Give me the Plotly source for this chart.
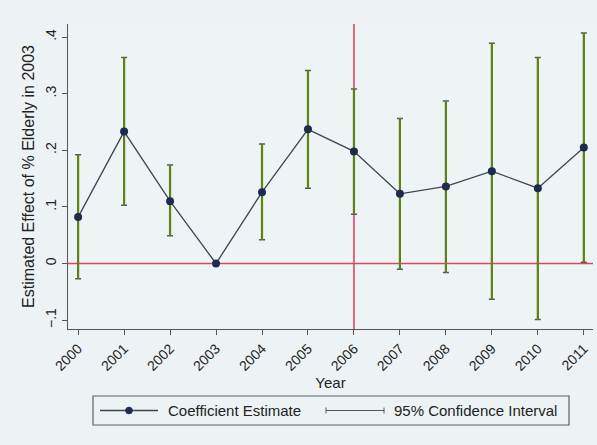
import plotly.graph_objects as go

years = [2000, 2001, 2002, 2003, 2004, 2005, 2006, 2007, 2008, 2009, 2010, 2011]
estimate = [0.082, 0.233, 0.110, 0.0, 0.126, 0.237, 0.198, 0.123, 0.136, 0.163, 0.133, 0.205]
ci_upper = [0.192, 0.364, 0.174, 0.0, 0.211, 0.341, 0.308, 0.256, 0.287, 0.389, 0.364, 0.407]
ci_lower = [-0.027, 0.103, 0.049, 0.0, 0.042, 0.133, 0.087, -0.010, -0.016, -0.063, -0.099, 0.002]
ytick_vals = [-0.1, 0, 0.1, 0.2, 0.3, 0.4]
ytick_text = ["\u2212.1", "0", ".1", ".2", ".3", ".4"]

W, H = 597, 445
L, R, T, B = 68, 4, 24, 116
PW, PH = W - L - R, H - T - B

def px(x):
    return (x - L) / PW

def py(y):
    return (H - B - y) / PH

green = "#5f8214"
capc = "#555a58"
red = "#d9485f"
navy = "#1d2c4e"
linec = "#3e4652"
font = "Liberation Sans, Arial, sans-serif"

fig = go.Figure()

# caps (error bars) drawn in gray
fig.add_trace(go.Scatter(
    x=years, y=estimate, mode="none",
    error_y=dict(type="data", symmetric=False,
                 array=[u - e for u, e in zip(ci_upper, estimate)],
                 arrayminus=[e - l for e, l in zip(estimate, ci_lower)],
                 color=capc, thickness=1.5, width=3),
    showlegend=False, hoverinfo="skip"))

# green vertical CI spans
cx, cy = [], []
for yr, lo, hi in zip(years, ci_lower, ci_upper):
    cx += [yr, yr, None]
    cy += [lo, hi, None]
fig.add_trace(go.Scatter(x=cx, y=cy, mode="lines",
                         line=dict(color=green, width=2.2),
                         showlegend=False, hoverinfo="skip"))

# estimate line
fig.add_trace(go.Scatter(x=years, y=estimate, mode="lines+markers",
                         line=dict(color=linec, width=1.3),
                         marker=dict(color=navy, size=8),
                         showlegend=False))

ly = 410.5
shapes = [
    dict(type="line", xref="paper", yref="y", x0=0, x1=1, y0=0, y1=0,
         line=dict(color=red, width=1.6), layer="below"),
    dict(type="line", xref="x", yref="paper", x0=2006, x1=2006, y0=0, y1=1,
         line=dict(color=red, width=1.6), layer="below"),
    # legend box
    dict(type="rect", xref="paper", yref="paper", x0=px(93), x1=px(569),
         y0=py(425), y1=py(396), line=dict(color="#5a5f60", width=1.2),
         fillcolor="rgba(0,0,0,0)"),
    # legend line for estimate
    dict(type="line", xref="paper", yref="paper", x0=px(100), x1=px(158),
         y0=py(ly), y1=py(ly), line=dict(color=linec, width=1.3)),
    dict(type="circle", xref="paper", yref="paper", x0=px(125.5), x1=px(132.5),
         y0=py(ly + 3.5), y1=py(ly - 3.5), fillcolor=navy,
         line=dict(color=navy, width=0.5)),
    # legend CI symbol
    dict(type="line", xref="paper", yref="paper", x0=px(326), x1=px(384),
         y0=py(ly), y1=py(ly), line=dict(color=capc, width=1)),
    dict(type="line", xref="paper", yref="paper", x0=px(326), x1=px(326),
         y0=py(ly - 3), y1=py(ly + 3), line=dict(color=capc, width=1)),
    dict(type="line", xref="paper", yref="paper", x0=px(384), x1=px(384),
         y0=py(ly - 3), y1=py(ly + 3), line=dict(color=capc, width=1)),
]

annotations = [
    dict(xref="paper", yref="paper", x=px(166), y=py(ly), xanchor="left",
         yanchor="middle", text="Coefficient Estimate", showarrow=False,
         font=dict(family=font, size=15, color="#222")),
    dict(xref="paper", yref="paper", x=px(392), y=py(ly), xanchor="left",
         yanchor="middle", text="95% Confidence Interval", showarrow=False,
         font=dict(family=font, size=15, color="#222")),
]

fig.update_layout(
    width=W, height=H,
    margin=dict(l=L, r=R, t=T, b=B),
    paper_bgcolor="#edf3f4",
    plot_bgcolor="#eef3f5",
    font=dict(family=font, size=14, color="#222"),
    shapes=shapes,
    annotations=annotations,
    xaxis=dict(range=[1999.78, 2011.2], tickmode="array", tickvals=years,
               ticktext=[str(y) for y in years], tickangle=-45,
               tickfont=dict(size=14),
               showgrid=False, zeroline=False, showline=True,
               linecolor="#555", linewidth=1.2, ticks="outside", ticklen=5,
               tickcolor="#555",
               title=dict(text="Year", standoff=2, font=dict(size=15))),
    yaxis=dict(range=[-0.1157, 0.423], tickmode="array", tickvals=ytick_vals,
               ticktext=ytick_text, tickangle=-90,
               tickfont=dict(size=14),
               showgrid=False, zeroline=False, showline=True,
               linecolor="#555", linewidth=1.2, ticks="outside", ticklen=5,
               tickcolor="#555",
               title=dict(text="Estimated Effect of % Elderly in 2003",
                          standoff=4, font=dict(size=16))),
)

fig.write_html("out.html")
